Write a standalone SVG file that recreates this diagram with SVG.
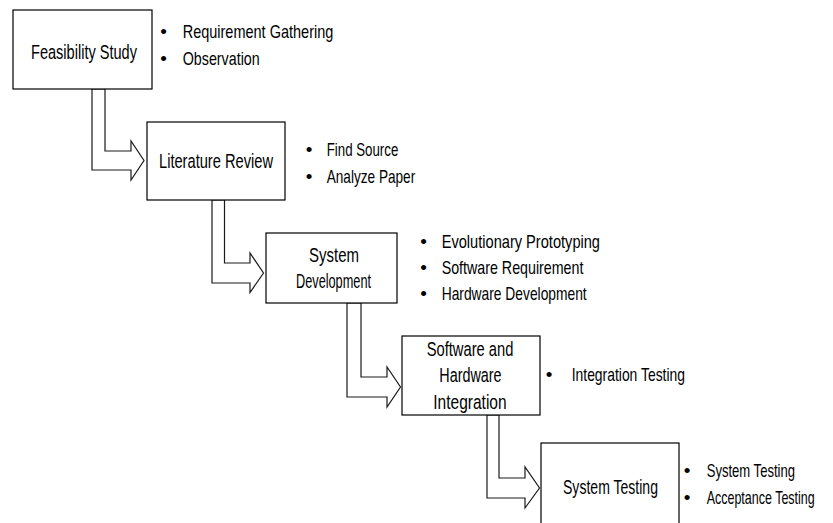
<svg xmlns="http://www.w3.org/2000/svg" width="833" height="523" viewBox="0 0 833 523">
<style>
.box{fill:#fff;stroke:#000;stroke-width:1.2}
.arr{fill:#fff;stroke:#1a1a1a;stroke-width:1.2;stroke-linejoin:miter}
text{font-family:"Liberation Sans",Arial,sans-serif;fill:#000}
.n{font-size:20.5px}
.l{font-size:19px}
.b{text-anchor:middle}
</style>
<rect width="833" height="523" fill="#fff"/>
<g id="connectors">
<polygon class="arr" points="92,89 105,89 105,151 131,151 131,141 144,160.5 131,180 131,170 92,170"/>
<polygon class="arr" points="212,200 224.5,200 224.5,263 250,263 250,253 263.5,273 250,292.5 250,283 212,283"/>
<polygon class="arr" points="347,303 361,303 361,377 387,377 387,367 400.5,387 387,407 387,397 347,397"/>
<polygon class="arr" points="487,415 499,415 499,478 525,478 525,467 539.5,488 525,508 525,498 487,498"/>
</g>
<g id="feasibility">
<rect class="box" x="13" y="10" width="139" height="79"/>
<text class="n" x="31" y="59" textLength="106" lengthAdjust="spacingAndGlyphs">Feasibility Study</text>
<text class="l" y="38"><tspan class="b" x="163.5">•</tspan><tspan x="182.7" textLength="150.6" lengthAdjust="spacingAndGlyphs">Requirement Gathering</tspan></text>
<text class="l" y="65"><tspan class="b" x="163.5">•</tspan><tspan x="182.7" textLength="77" lengthAdjust="spacingAndGlyphs">Observation</tspan></text>
</g>
<g id="literature">
<rect class="box" x="147" y="122" width="138" height="78"/>
<text class="n" x="159" y="168" textLength="114" lengthAdjust="spacingAndGlyphs">Literature Review</text>
<text class="l" y="155.5"><tspan class="b" x="309">•</tspan><tspan x="326.7" textLength="71.6" lengthAdjust="spacingAndGlyphs">Find Source</tspan></text>
<text class="l" y="183"><tspan class="b" x="309">•</tspan><tspan x="326.7" textLength="88.5" lengthAdjust="spacingAndGlyphs">Analyze Paper</tspan></text>
</g>
<g id="sysdev">
<rect class="box" x="266" y="233" width="131" height="70"/>
<text class="n" x="309" y="262" textLength="50" lengthAdjust="spacingAndGlyphs">System</text>
<text class="n" x="296" y="287.5" textLength="75" lengthAdjust="spacingAndGlyphs">Development</text>
<text class="l" y="247.5"><tspan class="b" x="423.5">•</tspan><tspan x="441.7" textLength="158.3" lengthAdjust="spacingAndGlyphs">Evolutionary Prototyping</tspan></text>
<text class="l" y="273.5"><tspan class="b" x="423.5">•</tspan><tspan x="441.7" textLength="141.7" lengthAdjust="spacingAndGlyphs">Software Requirement</tspan></text>
<text class="l" y="299.5"><tspan class="b" x="423.5">•</tspan><tspan x="441.7" textLength="145" lengthAdjust="spacingAndGlyphs">Hardware Development</tspan></text>
</g>
<g id="integration">
<rect class="box" x="402" y="336" width="138" height="79"/>
<text class="n" x="426.7" y="355.5" textLength="86.7" lengthAdjust="spacingAndGlyphs">Software and</text>
<text class="n" x="439.3" y="382" textLength="62.3" lengthAdjust="spacingAndGlyphs">Hardware</text>
<text class="n" x="433.3" y="408.5" textLength="73.3" lengthAdjust="spacingAndGlyphs">Integration</text>
<text class="l" y="380.5"><tspan class="b" x="549">•</tspan><tspan x="571.7" textLength="113.3" lengthAdjust="spacingAndGlyphs">Integration Testing</tspan></text>
</g>
<g id="systesting">
<rect class="box" x="541" y="443" width="138" height="95"/>
<text class="n" x="563" y="494" textLength="95" lengthAdjust="spacingAndGlyphs">System Testing</text>
<text class="l" y="477"><tspan class="b" x="687">•</tspan><tspan x="706.7" textLength="88.3" lengthAdjust="spacingAndGlyphs">System Testing</tspan></text>
<text class="l" y="503.5"><tspan class="b" x="687">•</tspan><tspan x="706.7" textLength="108" lengthAdjust="spacingAndGlyphs">Acceptance Testing</tspan></text>
</g>
</svg>
